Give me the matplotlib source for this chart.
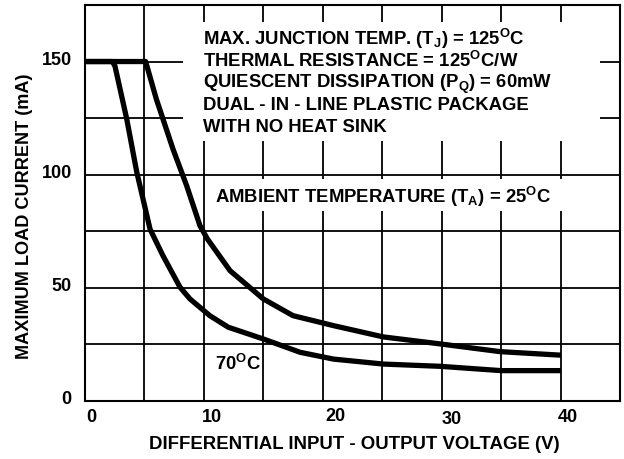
import matplotlib
matplotlib.use("Agg")
import matplotlib.pyplot as plt
from matplotlib.patches import Rectangle
from matplotlib.transforms import ScaledTranslation

plt.rcParams['font.family'] = ['Liberation Sans', 'DejaVu Sans']
plt.rcParams['font.weight'] = 'bold'
plt.rcParams['mathtext.fontset'] = 'custom'
plt.rcParams['mathtext.rm'] = 'Liberation Sans:bold'
plt.rcParams['mathtext.it'] = 'Liberation Sans:bold'
plt.rcParams['mathtext.bf'] = 'Liberation Sans:bold'
plt.rcParams['mathtext.default'] = 'rm'

# ---- data ----
v_25 = [0, 5.1, 6.0, 7.4, 8.55, 9.67, 10.3, 12.2, 15.0, 17.5, 20.9, 25.1, 29.9, 34.9, 39.8]
i_25 = [150, 150, 133.4, 111.3, 95.1, 77.4, 71.5, 57.5, 45.0, 37.6, 33.2, 28.2, 25.1, 21.7, 20.2]

v_70 = [0, 2.3, 2.52, 3.51, 4.35, 5.47, 6.56, 7.99, 8.83, 10.5, 12.05, 15.0, 18.1, 20.9, 25.1, 29.9, 35.0, 39.8]
i_70 = [150, 150, 148, 124.6, 101.2, 75.9, 64.1, 50.2, 45.0, 37.6, 32.5, 27.3, 21.4, 18.4, 16.2, 15.2, 13.3, 13.3]

x_ticks = [0, 10, 20, 30, 40]
x_tick_labels = ['0', '10', '20', '30', '40']
y_ticks = [0, 50, 100, 150]
y_tick_labels = ['0', '50', '100', '150']

notes = [
    r'MAX. JUNCTION TEMP. (T$_{J}$) = 125$^{O}$C',
    r'THERMAL RESISTANCE = 125$^{O}$C/W',
    r'QUIESCENT DISSIPATION (P$_{Q}$) = 60mW',
    r'DUAL - IN - LINE PLASTIC PACKAGE',
    r'WITH NO HEAT SINK',
]
label_25 = r'AMBIENT TEMPERATURE (T$_{A}$) = 25$^{O}$C'
label_70 = r'70$^{O}$C'

# ---- figure ----
fig = plt.figure(figsize=(6.24, 4.6), dpi=100)
W, H = 624, 460
L, R, T, B = 85, 620, 6, 401.7
ax = fig.add_axes([L / W, 1 - B / H, (R - L) / W, (B - T) / H])
ax.set_xlim(0, 45)
ax.set_ylim(0, 175)

fs = 13.3
ax.set_xticks(x_ticks)
ax.set_xticklabels(x_tick_labels, fontsize=13, fontweight='bold')
ax.set_xticks([5, 15, 25, 35], minor=True)
ax.set_yticks(y_ticks)
ax.set_yticklabels(y_tick_labels, fontsize=13, fontweight='bold')
ax.set_yticks([25, 75, 125], minor=True)
ax.tick_params(which='both', length=0)
ax.tick_params(axis='x', pad=5.5)
ax.tick_params(axis='y', pad=9.5)
ax.grid(True, which='both', color='black', linewidth=1.3)
ax.set_axisbelow(True)
for s in ax.spines.values():
    s.set_linewidth(1.5)
    s.set_color('black')

dxs = [6, 8, 13, 10, 7]
dys = [0, 0, 1.5, -1.5, 0]
for lab, dx, dy in zip(ax.get_xticklabels(), dxs, dys):
    lab.set_transform(lab.get_transform() + ScaledTranslation(dx / 100, dy / 100, fig.dpi_scale_trans))
for lab in ax.get_yticklabels():
    lab.set_transform(lab.get_transform() + ScaledTranslation(0, 4.5 / 100, fig.dpi_scale_trans))

ax.set_xlabel('DIFFERENTIAL INPUT - OUTPUT VOLTAGE (V)', fontsize=13.4, fontweight='bold')
ax.xaxis.set_label_coords(0.503, (B - 436) / (B - T))
ax.xaxis.label.set_va('top')
ax.set_ylabel('MAXIMUM LOAD CURRENT (mA)', fontsize=13.1, fontweight='bold')
ax.yaxis.set_label_coords((33 - L) / (R - L), (B - 216) / (B - T))


def px2data(x, y):
    return ((x - L) / (R - L) * 45, (B - y) / (B - T) * 175)

# white boxes behind annotations (break the grid)
for (x0, y0, x1, y1) in [(183, 23, 600, 142), (206, 180, 600, 212), (207, 348, 262, 378)]:
    dx0, dy1 = px2data(x0, y0)
    dx1, dy0 = px2data(x1, y1)
    ax.add_patch(Rectangle((dx0, dy0), dx1 - dx0, dy1 - dy0, facecolor='white',
                           edgecolor='none', zorder=1.5))

ax.plot(v_25, i_25, color='black', linewidth=3.8, solid_joinstyle='round', zorder=3)
ax.plot(v_70, i_70, color='black', linewidth=3.8, solid_joinstyle='round', zorder=3)

baselines = [45, 66.7, 88.3, 110, 131.7]
for txt, yb in zip(notes, baselines):
    x, y = px2data(203, yb)
    ax.text(x, y, txt, fontsize=fs, fontweight='bold', va='baseline', ha='left', zorder=4)

x, y = px2data(215, 203.3)
ax.text(x, y, label_25, fontsize=fs, fontweight='bold', va='baseline', ha='left', zorder=4)
x, y = px2data(215, 370)
ax.text(x, y, label_70, fontsize=fs, fontweight='bold', va='baseline', ha='left', zorder=4)

fig.savefig('out.png', dpi=100)
